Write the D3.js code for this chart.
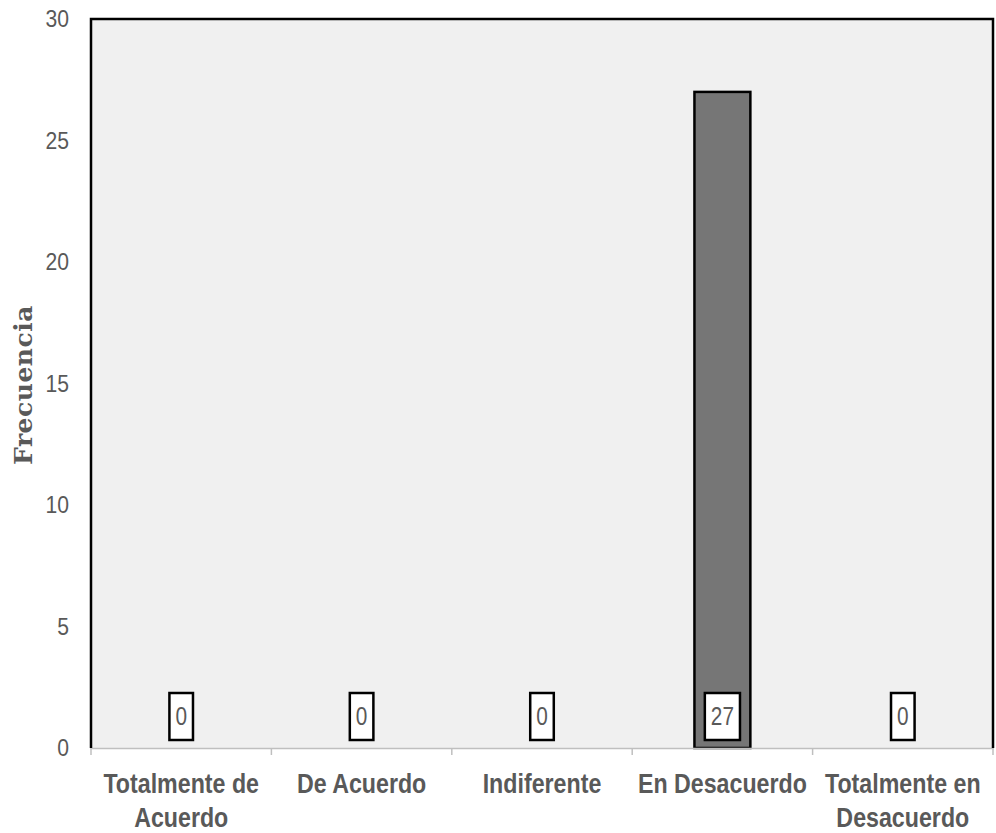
<!DOCTYPE html>
<html><head><meta charset="utf-8">
<script src="https://cdn.jsdelivr.net/npm/d3@7"></script>
<style>body{margin:0;background:#fff}</style>
</head><body>
<svg id="c" width="996" height="833"></svg>
<script>
const categories = [["Totalmente de","Acuerdo"],["De Acuerdo"],["Indiferente"],["En Desacuerdo"],["Totalmente en","Desacuerdo"]];
const values = [0,0,0,27,0];
const yTicks = [0,5,10,15,20,25,30];

const svg = d3.select("#c");
const m = {l:91, t:19, r:993, b:748};
const x = d3.scaleBand().domain(d3.range(categories.length)).range([m.l,m.r]).paddingInner(0).paddingOuter(0);
const y = d3.scaleLinear().domain([0,30]).range([m.b,m.t]);
const SANS = "'Liberation Sans Narrow','Arial Narrow','Liberation Sans',Arial,sans-serif";

svg.append("rect").attr("x",m.l).attr("y",m.t).attr("width",m.r-m.l).attr("height",m.b-m.t).attr("fill","#f0f0f0");

// bars
const bw = x.bandwidth()*0.31;
svg.selectAll(".bar").data(values).join("rect")
  .attr("x",(d,i)=>x(i)+x.bandwidth()/2-bw/2).attr("y",d=>y(d))
  .attr("width",bw).attr("height",d=>y(0)-y(d))
  .attr("fill","#767676").attr("stroke","#000").attr("stroke-width",2.5)
  .style("display",d=>d>0?null:"none");

// x axis
const xa = svg.append("g").attr("transform",`translate(0,${m.b})`)
  .call(d3.axisBottom(x).tickSize(0).tickFormat(""));
xa.select(".domain").attr("stroke","#bfbfbf").attr("stroke-width",1.5);
const bounds = d3.range(categories.length+1).map(i=>m.l+i*x.bandwidth());
svg.selectAll(".xt").data(bounds).join("line")
  .attr("x1",d=>d).attr("x2",d=>d).attr("y1",m.b).attr("y2",m.b+7)
  .attr("stroke","#bfbfbf").attr("stroke-width",1.5);

// border left/top/right
svg.append("path").attr("d",`M${m.l},${m.b}V${m.t}H${m.r}V${m.b}`)
  .attr("fill","none").attr("stroke","#000").attr("stroke-width",2.5);

// category labels
categories.forEach((lines,i)=>{
  const cx = x(i)+x.bandwidth()/2;
  const g = svg.append("g").attr("transform",`translate(${cx},793) scale(0.86,1)`);
  const t = g.append("text").attr("text-anchor","middle")
    .attr("font-family",SANS).attr("font-weight","bold").attr("font-size",27).attr("fill","#595959");
  lines.forEach((l,j)=>t.append("tspan").attr("x",0).attr("y",j*34).text(l));
});

// y axis tick labels
const ya = svg.append("g").attr("transform",`translate(${m.l},0)`)
  .call(d3.axisLeft(y).tickValues(yTicks).tickSize(0).tickPadding(0));
ya.select(".domain").remove();
ya.selectAll(".tick text").attr("x",null).attr("transform","translate(-22,0) scale(0.88,1)")
  .attr("font-family",SANS).attr("font-size",24).attr("fill","#595959");

// y title
svg.append("text").attr("transform","translate(32,385) rotate(-90)").attr("text-anchor","middle")
  .attr("font-family","'DejaVu Serif','Liberation Serif',serif").attr("font-weight","bold")
  .attr("font-size",25).attr("fill","#595959").attr("letter-spacing",0.5).text("Frecuencia");

// data labels
const lg = svg.selectAll(".lbl").data(values).join("g")
  .attr("transform",(d,i)=>`translate(${x(i)+x.bandwidth()/2},716)`);
lg.each(function(d){
  const g = d3.select(this);
  const t = g.append("text").attr("text-anchor","middle").attr("dy","0.36em")
    .attr("transform","scale(0.8,1)")
    .attr("font-family",SANS).attr("font-size",26).attr("fill","#595959").text(d);
  const w = t.node().getComputedTextLength()*0.8+12;
  g.insert("rect","text").attr("x",-w/2).attr("y",-23).attr("width",w).attr("height",47)
    .attr("fill","#fff").attr("stroke","#000").attr("stroke-width",2.5);
});
</script>
</body></html>
